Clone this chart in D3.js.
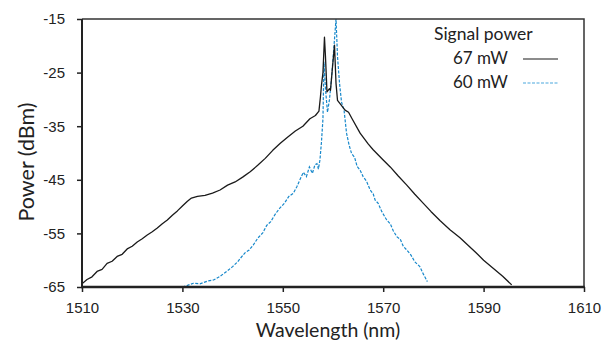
<!DOCTYPE html>
<html>
<head>
<meta charset="utf-8">
<script src="https://cdn.jsdelivr.net/npm/d3@7"></script>
<style>
  body { margin: 0; background: #fff; }
  svg { font-family: Lato, 'Open Sans', sans-serif; }
  .tick text { fill: #222; font-size: 15px; }
</style>
</head>
<body>
<div id="chart"></div>
<script>
const WIDTH = 616;
const HEIGHT = 341;
const MARGIN = { top: 19, right: 32, bottom: 54, left: 82 };

// x axis and y axis ticks
const xTicks = [1510, 1530, 1550, 1570, 1590, 1610];
const yTicks = [-65, -55, -45, -35, -25, -15];

// legend
const legendTitle = 'Signal power';
const seriesNames = ['67 mW', '60 mW'];

// 67 mW spectrum
const wl67 = [1510, 1511, 1512, 1513, 1514, 1515, 1516, 1517, 1518, 1519, 1520, 1521, 1522, 1523, 1524, 1525, 1526, 1527, 1528, 1529, 1530, 1531, 1531.8, 1533, 1534.5, 1536, 1537.5, 1539, 1540.5, 1542, 1543.5, 1545, 1546.5, 1548, 1549.5, 1551, 1552.5, 1554, 1555.4, 1556.5, 1557.2, 1557.5, 1557.7, 1558.0, 1558.3, 1558.5, 1558.8, 1559.3, 1559.5, 1559.9, 1560.3, 1560.6, 1560.9, 1561.4, 1562.4, 1563.1, 1563.8, 1565.4, 1567, 1568, 1570, 1571.4, 1573, 1574.7, 1576.3, 1578, 1579.5, 1581.3, 1583.3, 1585.3, 1587, 1588.5, 1590, 1591.9, 1593.8, 1595.6];
const dbm67 = [-64.4, -63.6, -63.1, -62.1, -61.7, -60.6, -60.2, -59.3, -58.9, -57.9, -57.4, -56.6, -56.0, -55.3, -54.7, -54.0, -53.2, -52.5, -51.6, -50.8, -49.9, -49.0, -48.4, -48.1, -47.9, -47.5, -46.9, -46.0, -45.4, -44.5, -43.5, -42.3, -41.0, -39.5, -38.2, -37.0, -35.9, -35.0, -33.6, -33.0, -32.2, -29.5, -27.4, -25.0, -18.4, -22.0, -28.6, -28.0, -28.3, -24.0, -19.9, -27.0, -30.2, -30.8, -32.0, -32.4, -33.6, -36.3, -38.3, -39.4, -41.3, -42.6, -44.3, -46.0, -47.7, -49.4, -50.9, -52.6, -54.3, -55.8, -57.3, -58.6, -60.0, -61.5, -63.0, -64.6];

// 60 mW spectrum
const wl60 = [1530, 1531, 1532.2, 1533.5, 1535, 1536.2, 1537.5, 1538.8, 1540, 1541, 1541.5, 1542.5, 1543.3, 1544.1, 1545, 1546, 1546.8, 1547.6, 1548.5, 1549.4, 1550.3, 1551.2, 1552.1, 1552.8, 1553.5, 1554.1, 1554.7, 1555.3, 1555.9, 1556.4, 1556.8, 1557.1, 1557.4, 1557.7, 1558.0, 1558.2, 1558.5, 1558.9, 1559.3, 1559.7, 1560.2, 1560.6, 1560.9, 1561.3, 1561.7, 1562.2, 1562.7, 1563.2, 1563.7, 1564.3, 1564.8, 1565.4, 1566, 1566.7, 1567.4, 1568, 1568.4, 1569, 1569.7, 1570.7, 1571.4, 1572, 1572.7, 1573.4, 1574, 1574.7, 1575.5, 1576.3, 1577.3, 1578, 1578.8];
const dbm60 = [-65.0, -64.7, -64.3, -64.4, -63.9, -63.7, -63.0, -62.1, -61.2, -60.3, -59.7, -58.6, -58.1, -57.2, -55.9, -54.9, -53.5, -52.8, -51.4, -50.3, -49.4, -48.1, -47.5, -46.3, -44.8, -43.6, -44.4, -42.6, -43.8, -42.2, -42.0, -43.0, -41.3, -38.0, -33.6, -23.0, -28.0, -32.4, -30.0, -26.1, -20.0, -15.0, -22.0, -27.0, -30.5, -32.0, -36.3, -38.5, -40.1, -40.8, -42.5, -43.2, -44.4, -45.3, -46.9, -47.6, -48.8, -49.4, -50.9, -52.5, -53.2, -54.5, -55.6, -56.1, -57.4, -58.1, -59.0, -60.3, -61.2, -62.6, -64.0];

const BLACK = '#1a1a1a';
const BLUE = '#1788cb';

const innerW = WIDTH - MARGIN.left - MARGIN.right;
const innerH = HEIGHT - MARGIN.top - MARGIN.bottom;

const svg = d3
  .select('#chart')
  .append('svg')
  .attr('width', WIDTH)
  .attr('height', HEIGHT);

const g = svg
  .append('g')
  .attr('transform', 'translate(' + MARGIN.left + ',' + MARGIN.top + ')');

const x = d3.scaleLinear().domain([1510, 1610]).range([0, innerW]);
const y = d3.scaleLinear().domain([-65, -15]).range([innerH, 0]);

g.append('clipPath')
  .attr('id', 'plot-clip')
  .append('rect')
  .attr('x', 0)
  .attr('y', -1)
  .attr('width', innerW)
  .attr('height', innerH + 1);

// curves
const line = d3
  .line()
  .x((d) => x(d[0]))
  .y((d) => y(d[1]));

const curves = g.append('g').attr('clip-path', 'url(#plot-clip)');

curves
  .append('path')
  .datum(d3.zip(wl60, dbm60))
  .attr('fill', 'none')
  .attr('stroke', BLUE)
  .attr('stroke-width', 1.2)
  .attr('stroke-dasharray', '3,1.5')
  .attr('d', line);

curves
  .append('path')
  .datum(d3.zip(wl67, dbm67))
  .attr('fill', 'none')
  .attr('stroke', BLACK)
  .attr('stroke-width', 1.3)
  .attr('stroke-linejoin', 'round')
  .attr('d', line);

// frame (top and right)
g.append('path')
  .attr('fill', 'none')
  .attr('stroke', '#333')
  .attr('stroke-width', 1.5)
  .attr('d', 'M0,0H' + innerW + 'V' + innerH);

// add the Y axis
const yAxis = g
  .append('g')
  .attr('class', 'y axis')
  .call(
    d3.axisLeft(y)
      .tickValues(yTicks)
      .tickSize(5)
      .tickPadding(12)
      .tickFormat((d) => String(d))
  );
yAxis.select('.domain').remove();
yAxis.selectAll('.tick line').attr('stroke', '#222').attr('stroke-width', 1.5);

// add the X axis
const xAxis = g
  .append('g')
  .attr('class', 'x axis')
  .attr('transform', 'translate(0,' + innerH + ')')
  .call(
    d3.axisBottom(x)
      .tickValues(xTicks)
      .tickSize(5)
      .tickPadding(10)
      .tickFormat((d) => String(d))
  );
xAxis.select('.domain').remove();
xAxis.selectAll('.tick line').attr('stroke', '#222').attr('stroke-width', 1.5);

// axis lines
g.append('line')
  .attr('x1', 0)
  .attr('x2', 0)
  .attr('y1', 0)
  .attr('y2', innerH)
  .attr('stroke', '#222')
  .attr('stroke-width', 2);
g.append('line')
  .attr('x1', -1)
  .attr('x2', innerW + 0.75)
  .attr('y1', innerH)
  .attr('y2', innerH)
  .attr('stroke', '#222')
  .attr('stroke-width', 2.5);

// axis titles
svg
  .append('text')
  .attr('x', 328)
  .attr('y', 337.2)
  .attr('text-anchor', 'middle')
  .attr('font-size', 19.5)
  .attr('fill', '#222')
  .text('Wavelength (nm)');

svg
  .append('text')
  .attr('transform', 'translate(34,162) rotate(-90)')
  .attr('text-anchor', 'middle')
  .attr('font-size', 21.5)
  .attr('fill', '#222')
  .text('Power (dBm)');

// legend
const gLegend = svg.append('g').attr('id', 'legend');
gLegend
  .append('text')
  .attr('x', 434)
  .attr('y', 40)
  .attr('font-size', 17.5)
  .attr('fill', '#222')
  .text(legendTitle);

const legendStyles = [
  { stroke: BLACK, dash: null },
  { stroke: '#4aa8de', dash: '3,1.5' },
];

gLegend
  .selectAll('text.entry')
  .data(seriesNames)
  .join('text')
  .attr('class', 'entry')
  .attr('x', 453)
  .attr('y', (d, i) => 64 + i * 24)
  .attr('font-size', 17)
  .attr('fill', '#222')
  .text((d) => d);

gLegend
  .selectAll('line')
  .data(seriesNames)
  .join('line')
  .attr('x1', 523)
  .attr('x2', 558)
  .attr('y1', (d, i) => 59 + i * 24)
  .attr('y2', (d, i) => 59 + i * 24)
  .attr('stroke', (d, i) => legendStyles[i].stroke)
  .attr('stroke-width', 1.2)
  .attr('stroke-dasharray', (d, i) => legendStyles[i].dash);
</script>
</body>
</html>
